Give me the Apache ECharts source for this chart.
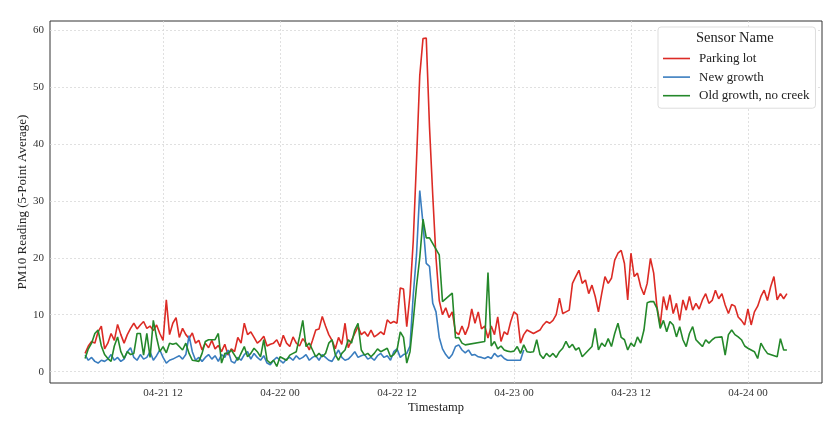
<!DOCTYPE html>
<html>
<head>
<meta charset="utf-8">
<script src="https://cdn.jsdelivr.net/npm/echarts@6/dist/echarts.min.js"></script>
<style>
html,body{margin:0;padding:0;background:#fff;}
#chart{width:838px;height:434px;}
</style>
</head>
<body>
<div id="chart"></div>
<script>
// Sampling: readings every 20 minutes starting 04-21 04:00 (hours counted from 04-21 00:00)
const startHour = 4;
const stepHours = 1 / 3;

// X tick positions (hours from 04-21 00:00) and labels
const xTickHours = [12, 24, 36, 48, 60, 72];
const xTickLabels = ['04-21 12', '04-22 00', '04-22 12', '04-23 00', '04-23 12', '04-24 00'];
const yTicks = [0, 10, 20, 30, 40, 50, 60];

const seriesNames = ['Parking lot', 'New growth', 'Old growth, no creek'];

const parkingLot = [
  3.2, 4.5, 5.3, 5.0, 7.0, 8.0, 4.0, 5.0, 6.7, 5.5,
  8.3, 6.5, 5.0, 6.5, 7.6, 8.5, 7.5, 8.2, 8.8, 7.6,
  8.0, 7.2, 8.2, 6.7, 5.5, 12.6, 6.5, 8.5, 9.5, 6.0,
  7.6, 6.5, 5.8, 6.8, 5.0, 5.5, 3.8, 5.0, 4.2, 5.5,
  4.0, 4.6, 3.5, 4.8, 2.9, 4.0, 3.5, 6.0, 5.0, 8.5,
  6.5, 7.0, 6.0, 5.0, 5.5, 6.2, 4.5, 4.8, 5.0, 5.6,
  4.4, 6.4, 5.0, 4.4, 6.1, 5.0, 4.5, 5.8, 5.0, 3.8,
  5.5, 7.3, 7.5, 9.7, 8.0, 6.5, 5.5, 4.0, 6.0, 4.8,
  8.5, 4.2, 5.5, 6.7, 7.9, 6.5, 7.0, 6.2, 7.3, 6.1,
  6.5, 7.0, 6.5, 9.1, 8.5, 8.8, 8.5, 14.7, 14.5, 7.9,
  13.5, 23, 37, 52, 58.5, 58.6, 43, 31, 20, 12.5,
  10, 11.2, 9.5, 10.5, 7, 6.5, 8, 6.5, 7.9, 11,
  8.5, 10.5, 7.5, 8, 5.9, 8, 6.5, 9.6, 5.3, 7,
  6.5, 8.8, 10.5, 10, 5, 6.5, 7.3, 7, 6.7, 7,
  7.3, 8.2, 8.8, 8.5, 9, 10, 12.9, 10.2, 10.5, 10.8,
  15.5, 16.7, 17.8, 15.5, 16.1, 13.7, 15.2, 13.2, 10.5, 13.7,
  16.7, 15.5, 16.4, 19.6, 20.8, 21.3, 19, 12.6, 20.8, 16.7,
  17.3, 14.9, 13.5, 15.5, 19.9, 17.3, 11.4, 8.2, 13.2, 10.8,
  13.5, 10.2, 12, 9, 12.6, 10.8, 13.2, 10.8, 12, 11,
  12.6, 13.7, 12, 12.5, 14.3, 12.8, 13.7, 11.7, 10.2, 11.8,
  11.5, 9.6, 9, 8.2, 11, 8.2, 10.5, 11.5, 13.2, 14.3,
  12.5, 14.9, 16.7, 12.6, 13.7, 12.8, 13.7
];

const newGrowth = [
  2.9, 2.0, 2.5, 1.8, 1.5, 2.0, 1.8, 2.2, 3.0, 2.0,
  2.5, 1.8, 2.2, 3.5, 4.2, 2.5, 2.0, 3.0, 2.2, 2.5,
  3.5, 2.0, 2.8, 3.8, 2.5, 1.5, 2.0, 2.2, 2.5, 2.8,
  2.2, 3.0, 6.3, 3.5, 2.0, 2.5, 1.8, 2.5, 3.0, 2.2,
  2.8, 1.8, 3.0, 2.5, 3.8, 1.8, 1.5, 2.5, 2.0, 3.0,
  3.5, 2.2, 3.2, 2.5, 2.0, 2.8, 1.5, 1.2, 2.0, 2.5,
  2.0, 1.5, 2.2, 2.5, 2.0, 2.8, 2.2, 2.5, 3.0, 2.0,
  2.5, 2.8, 2.0, 3.0, 2.5, 2.0, 1.8, 2.8, 3.8, 2.5,
  2.0, 2.2, 2.8, 3.5, 2.5, 2.8, 3.0, 2.2, 2.5, 2.0,
  2.8, 3.2, 2.5, 2.8, 2.0, 3.5, 4.0, 2.5, 3.0, 3.2,
  4.5, 13.5, 20.5, 31.8, 26, 19, 18.5, 12, 10.5, 6,
  4, 3, 2.3, 3.0, 4.4, 4.7, 3.8, 3.3, 3.8, 2.9,
  3.0, 2.6, 2.5, 2.3, 2.6, 2.3, 3.2, 2.6, 2.9, 2.3,
  2.0, null, null, null, 2.0, 3.8
];

const oldGrowth = [
  2.3, 4.0, 5.0, 6.7, 7.3, 4.5, 3.0, 2.3, 1.8, 4.5,
  6.1, 3.5, 2.3, 3.5, 3.0, 3.2, 6.7, 6.7, 2.9, 6.7,
  2.5, 9.0, 6.0, 3.5, 4.4, 3.3, 5.0, 4.8, 5.0, 4.4,
  3.8, 5.0, 3.2, 2.0, 1.9, 1.8, 3.2, 5.3, 5.6, null,
  5.6, 6.7, 1.5, 3.2, 3.2, 3.8, 2.9, 2.0, 3.2, 4.4,
  2.6, 3.2, 4.1, 3.5, 2.6, 5.6, 2.0, 1.5, 2.0, 0.9,
  2.6, 2.3, 2.0, 2.9, 3.2, 3.5, 6.1, 9.0, 4.4, 5.0,
  3.8, 2.6, 3.2, 2.6, 3.2, 5.0, 5.6, 3.0, 2.0, 3.2,
  3.8, 5.6, 5.0, 7.3, 8.5, 3.8, 2.9, 3.2, 2.6, 3.2,
  4.0, 3.5, 3.8, 4.1, 2.6, 3.0, 3.8, 7.0, 6.0, 1.5,
  3.5, 9, 15, 20, 26.8, 23.5, 23.5, null, null, 20.5,
  12.3, null, null, 13.8, 5.9, 6.0, 5.0, 4.7, null, null,
  null, null, null, 5.3, 17.4, 4.5, 5.3, 4.0, 4.5, 3.8,
  3.6, 3.5, 3.6, 4.4, 3.2, 4.7, 3.5, 3.4, 3.5, 5.6,
  3.0, 2.3, 3.2, 2.6, 3.2, 2.5, 3.5, 4.1, 5.3, 4.2,
  4.8, 3.8, 4.2, 2.6, null, null, 4.4, 7.6, 3.8, 5.0,
  4.4, 5.8, 4.4, 6.7, 8.5, 6.0, 5.6, 3.8, 5.0, 4.4,
  6.1, 5.0, 7.3, 12.1, 12.3, 12.3, 11.1, 7.6, 9.0, 7.0,
  8.8, 8.2, 6.1, 7.9, 5.6, 4.4, 6.7, 7.9, 5.6, 5.0,
  4.4, 5.6, 5.0, 5.6, 6.0, null, 6.1, 2.9, 6.5, 7.3,
  6.5, 6.1, 5.6, 4.5, 4.1, 3.8, 3.5, 2.3, 5.0, 4.0,
  3.2, null, null, 2.6, 5.8, 3.8, 3.8
];

const colors = ['#dc2b25', '#3a7dbf', '#24882a'];

function toPairs(values) {
  return values.map((v, i) => [startHour + i * stepHours, v]);
}

const FONT = "'Liberation Serif', 'Times New Roman', serif";
const chart = echarts.init(document.getElementById('chart'));

chart.setOption({
  animation: false,
  backgroundColor: '#fff',
  textStyle: { fontFamily: FONT },
  title: {
    text: 'Sensor Name',
    left: 696,
    top: 31,
    padding: 0,
    textStyle: { fontFamily: FONT, fontSize: 14.5, fontWeight: 'normal', color: '#222' }
  },
  legend: {
    data: seriesNames,
    orient: 'vertical',
    left: 658,
    top: 27,
    padding: [25, 6, 6, 5],
    icon: 'rect',
    itemWidth: 27,
    itemHeight: 1.6,
    itemGap: 5.6,
    backgroundColor: '#fff',
    borderColor: '#dddddd',
    borderWidth: 1,
    borderRadius: 3,
    textStyle: { fontFamily: FONT, fontSize: 13, color: '#222', padding: [0, 0, 0, 4] }
  },
  grid: {
    left: 50, right: 16, top: 21, bottom: 51,
    show: true, borderColor: '#333', borderWidth: 1, backgroundColor: 'transparent'
  },
  xAxis: {
    type: 'value',
    min: 0.4,
    max: 79.6,
    name: 'Timestamp',
    nameLocation: 'middle',
    nameGap: 18,
    nameMoveOverlap: false,
    nameTextStyle: { fontFamily: FONT, fontSize: 12.5, color: '#222' },
    axisLine: { show: false },
    axisTick: { show: false, customValues: xTickHours },
    axisLabel: {
      customValues: xTickHours,
      fontFamily: FONT, fontSize: 11, color: '#333', margin: 5,
      formatter: function (v) {
        const k = xTickHours.indexOf(Math.round(v));
        return k >= 0 ? xTickLabels[k] : '';
      }
    },
    splitLine: { show: true, lineStyle: { color: '#d9d9d9', type: [2, 2], width: 0.8 } }
  },
  yAxis: {
    type: 'value',
    min: -2,
    max: 61.6,
    name: 'PM10 Reading (5-Point Average)',
    nameLocation: 'middle',
    nameGap: 21,
    nameMoveOverlap: false,
    nameTextStyle: { fontFamily: FONT, fontSize: 13, color: '#222' },
    axisLine: { show: false },
    axisTick: { show: false, customValues: yTicks },
    axisLabel: {
      customValues: yTicks,
      fontFamily: FONT, fontSize: 11, color: '#333', margin: 6
    },
    splitLine: { show: true, lineStyle: { color: '#d9d9d9', type: [2, 2], width: 0.8 } }
  },
  series: [
    { name: seriesNames[0], type: 'line', data: toPairs(parkingLot), showSymbol: false, symbol: 'none',
      connectNulls: true, lineStyle: { color: colors[0], width: 1.6 }, itemStyle: { color: colors[0] } },
    { name: seriesNames[1], type: 'line', data: toPairs(newGrowth), showSymbol: false, symbol: 'none',
      connectNulls: true, lineStyle: { color: colors[1], width: 1.6 }, itemStyle: { color: colors[1] } },
    { name: seriesNames[2], type: 'line', data: toPairs(oldGrowth), showSymbol: false, symbol: 'none',
      connectNulls: true, lineStyle: { color: colors[2], width: 1.6 }, itemStyle: { color: colors[2] } }
  ]
});
</script>
</body>
</html>
